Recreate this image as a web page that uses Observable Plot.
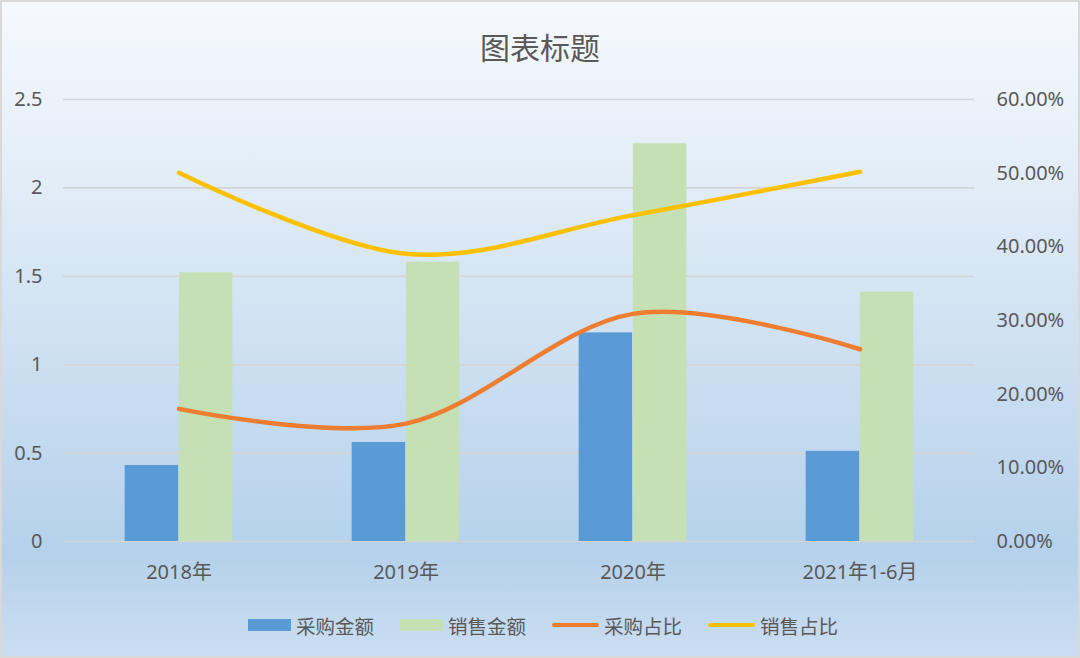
<!DOCTYPE html>
<html>
<head>
<meta charset="utf-8">
<script src="https://cdn.jsdelivr.net/npm/d3@7"></script>
<script src="https://cdn.jsdelivr.net/npm/@observablehq/plot@0.6"></script>
<style>
  body { margin: 0; }
  #chart {
    width: 1080px; height: 658px; position: relative; overflow: hidden;
    background: linear-gradient(to bottom, #f6f9fd 0%, #e4eef8 25%, #b5d1eb 84%, #cbdef1 100%);
    box-shadow: inset 0 0 0 2px #d9d9d9;
    font-family: "Noto Sans", "Noto Sans CJK SC", sans-serif;
    color: #595959;
  }
  #title { height: 78px; box-sizing: border-box; padding-top: 28px; text-align: center; font-size: 30px; line-height: 36px; font-family: "Noto Sans CJK SC", sans-serif; }
  #legend { height: 50px; display: flex; justify-content: center; align-items: center; font-size: 19.5px; padding-left: 6px; box-sizing: border-box; font-family: "Noto Sans CJK SC", sans-serif; }
  .item { display: flex; align-items: center; margin: 0 13px; }
  .sw { display: inline-block; margin-right: 5px; }
</style>
</head>
<body>
<div id="chart">
  <div id="title">图表标题</div>
  <div id="plot"></div>
  <div id="legend"></div>
</div>
<script>
const categories = ["2018年", "2019年", "2020年", "2021年1-6月"];
const purchaseAmount = [0.43, 0.56, 1.18, 0.51];
const salesAmount = [1.52, 1.58, 2.25, 1.41];
const purchaseShare = [0.180, 0.160, 0.309, 0.261];
const salesShare = [0.5005, 0.3905, 0.443, 0.502];
const leftTicks = [0, 0.5, 1, 1.5, 2, 2.5];
const rightTicks = [0, 0.1, 0.2, 0.3, 0.4, 0.5, 0.6];
const seriesNames = ["采购金额", "销售金额", "采购占比", "销售占比"];
const colors = ["#5b9bd5", "#c5e0b4", "#ed7d31", "#ffc000"];

const leftMax = 2.5, rightMax = 0.6;
const toLeft = p => p * leftMax / rightMax;

const data = categories.map((c, i) => ({
  cat: c, purchase: purchaseAmount[i], sales: salesAmount[i],
  pShare: toLeft(purchaseShare[i]), sShare: toLeft(salesShare[i])
}));

const W = 1080, H = 522, mL = 63, mR = 106, mT = 21, mB = 59;
const band = (W - mL - mR) / categories.length;
const barW = band * 0.238;

const chart = Plot.plot({
  width: W, height: H,
  marginLeft: mL, marginRight: mR, marginTop: mT, marginBottom: mB,
  style: { background: "transparent", color: "#595959", fontFamily: "'Noto Sans', 'Noto Sans CJK SC', sans-serif", overflow: "visible" },
  x: { type: "band", domain: categories, padding: 0 },
  y: { domain: [0, leftMax], nice: false },
  marks: [
    Plot.gridY(leftTicks, { stroke: "#d4d4d4", strokeOpacity: 1, strokeWidth: 1.6 }),
    Plot.barY(data, { x: "cat", y: "purchase", fill: colors[0], insetLeft: band / 2 - barW, insetRight: band / 2 }),
    Plot.barY(data, { x: "cat", y: "sales", fill: colors[1], insetLeft: band / 2, insetRight: band / 2 - barW }),
    Plot.lineY(data, { x: "cat", y: "pShare", stroke: colors[2], strokeWidth: 4.5, curve: "cardinal", strokeLinecap: "round" }),
    Plot.lineY(data, { x: "cat", y: "sShare", stroke: colors[3], strokeWidth: 4.5, curve: "cardinal", strokeLinecap: "round" }),
    Plot.axisY(leftTicks, { anchor: "left", tickSize: 0, tickPadding: 21, fontSize: 20, tickFormat: d => String(d), label: null }),
    Plot.axisY(rightTicks.map(toLeft), { anchor: "right", tickSize: 0, tickPadding: 22, fontSize: 20, tickFormat: d => (d / leftMax * rightMax * 100).toFixed(2) + "%", label: null }),
    Plot.axisX({ anchor: "bottom", tickSize: 0, tickPadding: 23, fontSize: 20, label: null })
  ]
});
document.getElementById("plot").appendChild(chart);

const legend = document.getElementById("legend");
seriesNames.forEach((name, i) => {
  const item = document.createElement("div");
  item.className = "item";
  const sw = document.createElement("span");
  sw.className = "sw";
  if (i < 2) { sw.style.width = "43px"; sw.style.height = "12px"; sw.style.background = colors[i]; }
  else { sw.style.width = "47px"; sw.style.height = "4.5px"; sw.style.borderRadius = "3px"; sw.style.background = colors[i]; }
  const t = document.createElement("span");
  t.textContent = name;
  item.appendChild(sw); item.appendChild(t);
  legend.appendChild(item);
});
</script>
</body>
</html>
